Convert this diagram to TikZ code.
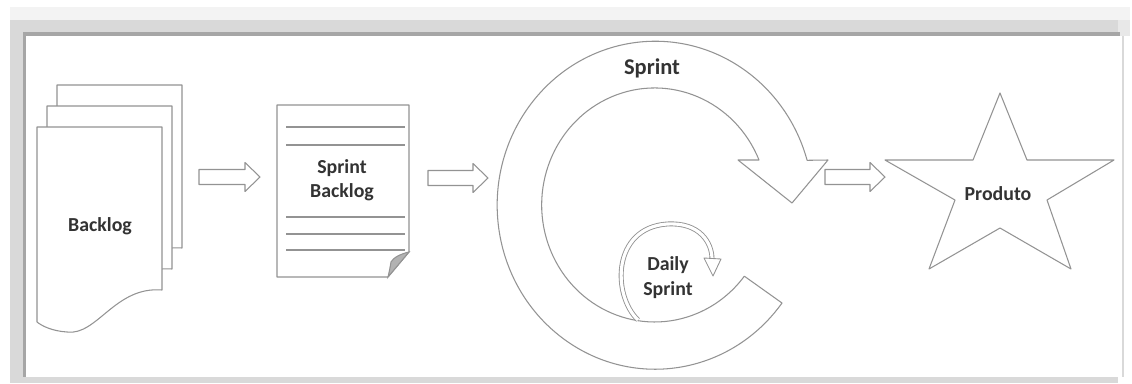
\documentclass[tikz,border=0pt]{standalone}
\usepackage{fontspec}
\setmainfont{Carlito}
\usetikzlibrary{calc}
\definecolor{bandlight}{HTML}{F3F3F3}
\definecolor{bandgray}{HTML}{D9D9D9}
\definecolor{banddark}{HTML}{A6A6A6}
\definecolor{linegray}{HTML}{939393}
\definecolor{textgray}{HTML}{333333}
\tikzset{
	shape line/.style={draw=linegray, line width=0.6pt, fill=white, line join=round},
	label text/.style={font=\bfseries\fontsize{11.3}{13.6}\selectfont, text=textgray, align=center, inner sep=0pt},
}
% hollow block arrow from #1 to #2
\newcommand{\blockarrow}[2]{%
	\draw[shape line] ($(#1)+(0,-7.5)$) -- ($(#2)+(-15,-7.5)$) -- ($(#2)+(-15,-14.5)$) -- (#2)
		-- ($(#2)+(-15,14.5)$) -- ($(#2)+(-15,7.5)$) -- ($(#1)+(0,7.5)$) -- cycle;}
\begin{document}
\begin{tikzpicture}[x=0.02cm, y=-0.02cm]
	\useasboundingbox (0,0) rectangle (1132,383);
	% frame
	\fill[white] (0,0) rectangle (1132,383);
	\fill[bandlight] (10,7) rectangle (1130,20);
	\fill[bandgray] (10,20) rectangle (1118,383);
	\fill[bandgray!60] (1118,20) rectangle (1130,36);
	\fill[banddark] (23,32) rectangle (1120,377);
	\fill[white] (26,36) rectangle (1122,377);
	\fill[bandgray] (1122,36) rectangle (1124,377);

	% backlog pages
	\foreach \dx/\dy in {20/-42, 10/-21, 0/0}
		\draw[shape line, shift={(\dx,\dy)}] (37,127) -- (162,127) -- (162,290)
			.. controls (115,286) and (97,336) .. (67,332) .. controls (52,331) and (42,326) .. (37,322) -- cycle;
	\node[label text] (backlog) at (100,226) {Backlog};

	% sprint backlog page
	\draw[shape line] (277,105) -- (409,105) -- (409,252) -- (388,277) -- (277,277) -- cycle;
	\filldraw[draw=linegray, line width=0.6pt, fill=black!30] (409,252) .. controls (400,254) and (393,258) .. (391,262)
		.. controls (390,268) and (389,273) .. (388,277) -- cycle;
	\foreach \ly in {127, 145, 217, 234, 250}
		\draw[linegray, line width=0.6pt] (286,\ly) -- (405,\ly);
	\node[label text] (sbacklog) at (342,180) {Sprint\\Backlog};

	% sprint cycle
	\draw[shape line] (782,303) arc[start angle=36.6, end angle=344.1, x radius=158, y radius=164]
		-- (828,160) -- (792,203) -- (738,160) -- (759,160)
		arc[start angle=337.4, end angle=37.5, x radius=113, y radius=117] -- cycle;
	\node[label text, font=\bfseries\fontsize{12.8}{15}\selectfont] (sprint) at (652,68) {Sprint};

	% daily sprint
	\draw[linegray, line width=0.5pt, double=white, double distance=1.8pt]
		(638,320) .. controls (612,295) and (612,228) .. (667,224) .. controls (700,222) and (712,243) .. (712,259);
	\draw[shape line, line width=0.5pt] (704,258) -- (721,259) -- (713,276) -- cycle;
	\node[label text, font=\bfseries\fontsize{11.3}{14.2}\selectfont] (daily) at (668,278) {Daily\\Sprint};

	% product
	\draw[shape line] (1000,93) -- (1027,160) -- (1114,160) -- (1047,200) -- (1071,269) -- (1000,228)
		-- (929,269) -- (955,200) -- (885,160) -- (973,160) -- cycle;
	\node[label text] (produto) at (998,194) {Produto};

	% flow arrows
	\coordinate (a1) at (199,177); \coordinate (b1) at (260,177);
	\coordinate (a2) at (428,178); \coordinate (b2) at (488,178);
	\coordinate (a3) at (825,177); \coordinate (b3) at (885,177);
	\blockarrow{a1}{b1}
	\blockarrow{a2}{b2}
	\blockarrow{a3}{b3}
\end{tikzpicture}
\end{document}
